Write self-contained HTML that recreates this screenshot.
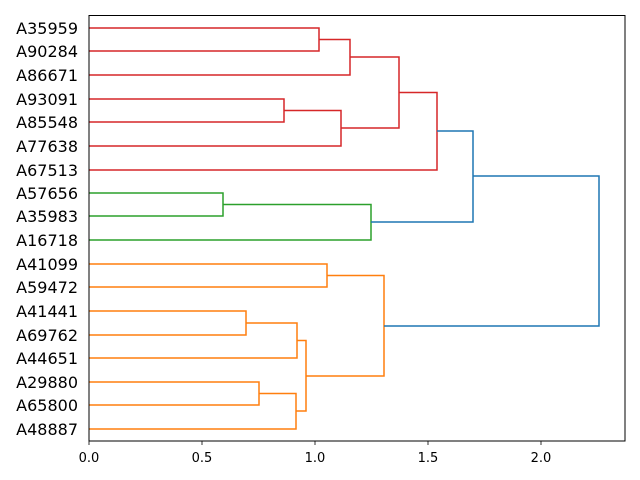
<!DOCTYPE html><html><head><style>body{margin:0;background:#fff}svg{display:block}</style></head><body>
<svg width="640" height="480" xmlns="http://www.w3.org/2000/svg" font-family="DejaVu Sans, Liberation Sans, sans-serif">
<g fill="none" stroke-width="1.5">
<g stroke="#d62728">
<path d="M89,28H319V51H89"/><path d="M319,39.5H350V75H89"/>
<path d="M89,99H284V122H89"/><path d="M284,110.5H341V146H89"/>
<path d="M350,57H399V128H341"/><path d="M399,92.5H437V170H89"/>
</g>
<g stroke="#2ca02c">
<path d="M89,193H223V216H89"/><path d="M223,204.5H371V240H89"/>
</g>
<g stroke="#ff7f0e">
<path d="M89,264H327V287H89"/>
<path d="M89,311H246V335H89"/><path d="M246,323H297V358H89"/>
<path d="M89,382H259V405H89"/><path d="M259,393.5H296V429H89"/>
<path d="M297,340.5H306V411H296"/><path d="M327,275.5H384V376H306"/>
</g>
<g stroke="#1f77b4">
<path d="M437,131H473V222H371"/><path d="M473,176H599V326H384"/>
</g>
</g>
<rect x="89" y="15.5" width="536" height="425.5" fill="none" stroke="#000" stroke-width="1"/>
<g stroke="#000" stroke-width="0.8">
<path d="M89,441v4M202,441v4M315,441v4M428,441v4M541,441v4"/>
</g>
<g font-size="13" text-anchor="middle" fill="#000">
<text x="89" y="462">0.0</text><text x="202" y="462">0.5</text><text x="315" y="462">1.0</text><text x="428" y="462">1.5</text><text x="541" y="462">2.0</text>
</g>
<g font-size="16" text-anchor="end" fill="#000">
<text x="78" y="34">A35959</text><text x="78" y="57">A90284</text><text x="78" y="81">A86671</text><text x="78" y="105">A93091</text><text x="78" y="128">A85548</text><text x="78" y="152">A77638</text><text x="78" y="176">A67513</text><text x="78" y="199">A57656</text><text x="78" y="222">A35983</text><text x="78" y="246">A16718</text><text x="78" y="270">A41099</text><text x="78" y="293">A59472</text><text x="78" y="317">A41441</text><text x="78" y="341">A69762</text><text x="78" y="364">A44651</text><text x="78" y="388">A29880</text><text x="78" y="411">A65800</text><text x="78" y="435">A48887</text>
</g>
</svg></body></html>
